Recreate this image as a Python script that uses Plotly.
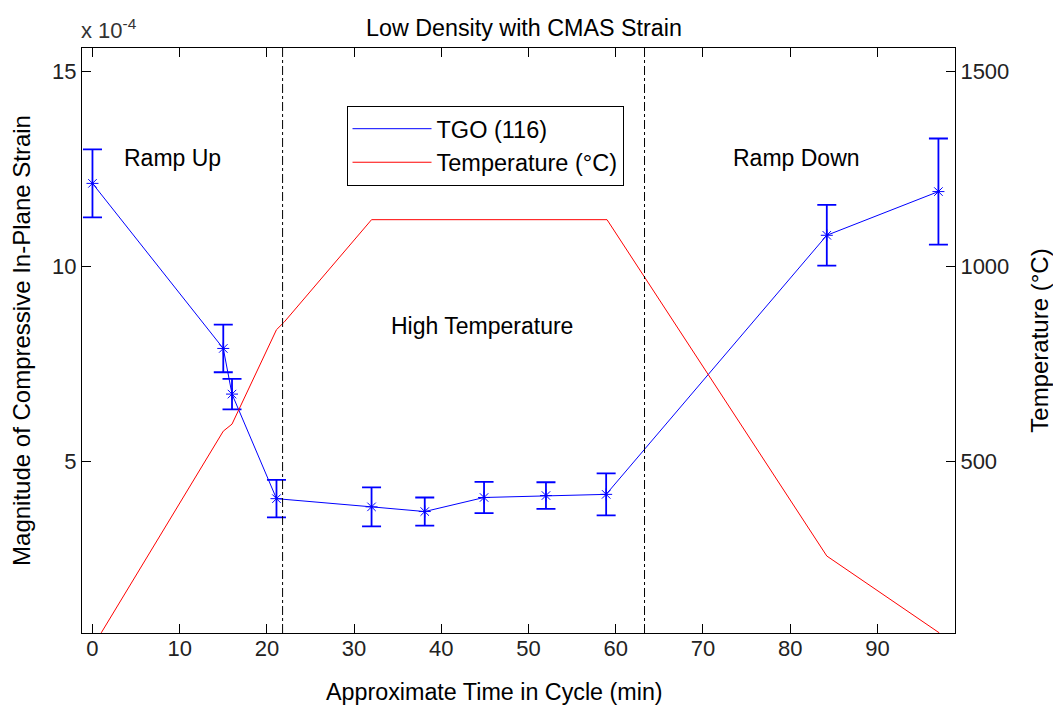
import plotly.graph_objects as go

# ---- data ----
time_strain = [0, 15, 16, 21.1, 32, 38.1, 44.9, 52, 58.9, 84.2, 97]
strain_e4 = [12.13, 7.90, 6.73, 4.05, 3.84, 3.72, 4.08, 4.13, 4.16, 10.80, 11.92]
strain_err = [0.87, 0.61, 0.39, 0.48, 0.50, 0.36, 0.40, 0.34, 0.54, 0.78, 1.36]

time_temp = [1.0, 15.0, 16.0, 21.1, 22.0, 32.0, 59.0, 84.2, 97.1]
temperature = [61, 578, 596, 838, 858, 1120, 1120, 258, 61]

phase_bounds = [21.8, 63.3]
x_ticks = [0, 10, 20, 30, 40, 50, 60, 70, 80, 90]
y_ticks = [5, 10, 15]
y2_ticks = [500, 1000, 1500]

FONT = "Liberation Sans, Arial, Helvetica, sans-serif"
FS = 22
BLUE = "#0000FF"
RED = "#FF0000"

fig = go.Figure()
fig.add_trace(go.Scatter(
    x=time_strain, y=strain_e4, name="TGO (116)", mode="lines+markers",
    showlegend=False, legendgroup="a",
    line=dict(color=BLUE, width=1),
    marker=dict(symbol="asterisk-open", size=10, color=BLUE,
                line=dict(color=BLUE, width=1)),
    error_y=dict(type="data", array=strain_err, visible=True,
                 color=BLUE, thickness=1.8, width=9.5),
    yaxis="y"))
# legend entry (line only, as in the reference legend)
fig.add_trace(go.Scatter(
    x=[None], y=[None], name="TGO (116)", mode="lines", legendgroup="a",
    line=dict(color=BLUE, width=1), yaxis="y"))
fig.add_trace(go.Scatter(
    x=time_temp, y=temperature, name="Temperature (°C)", mode="lines",
    legendgroup="b",
    line=dict(color=RED, width=1), yaxis="y2"))

for xb in phase_bounds:
    fig.add_shape(type="line", x0=xb, x1=xb, y0=0, y1=1, xref="x", yref="paper",
                  line=dict(color="black", width=1, dash="dashdot"))

ann = [
    ("Ramp Up", 9.2, 12.79),
    ("High Temperature", 44.65, 8.48),
    ("Ramp Down", 80.7, 12.79),
]
for t, xx, yy in ann:
    fig.add_annotation(text=t, x=xx, y=yy, xref="x", yref="y", showarrow=False,
                       font=dict(family=FONT, size=23, color="black"))

fig.add_annotation(text="x 10<sup>-4</sup>", x=0, y=1, xref="paper", yref="paper",
                   xanchor="left", yanchor="bottom", showarrow=False, yshift=3,
                   xshift=-3,
                   font=dict(family=FONT, size=22, color="#333333"))

# x-axis title (placed as in the reference, slightly left of the plot centre)
fig.add_annotation(text="Approximate Time in Cycle (min)", x=0.5, y=0,
                   xref="paper", yref="paper", xanchor="center", yanchor="middle",
                   xshift=-24, yshift=-59, showarrow=False,
                   font=dict(family=FONT, size=23.3, color="black"))

axis_common = dict(showline=True, linecolor="black", linewidth=1, ticks="inside",
                   ticklen=9, tickcolor="black", showgrid=False, zeroline=False,
                   automargin=False,
                   tickfont=dict(family=FONT, size=FS, color="#222222"))

# page body has an 8px margin: figure is sized so the plot lands where the reference has it
fig.update_layout(
    width=1053, height=706,
    margin=dict(l=74, r=106, t=40, b=81, autoexpand=False),
    paper_bgcolor="white", plot_bgcolor="white",
    title=dict(text="Low Density with CMAS Strain", x=0.49, xanchor="center",
               y=0.972, yanchor="middle",
               font=dict(family=FONT, size=23.3, color="black")),
    xaxis=dict(range=[-1.2, 98.9], tickvals=x_ticks, mirror="ticks",
               ticklabelstandoff=-4,
               **axis_common),
    yaxis=dict(range=[0.607, 15.6], tickvals=y_ticks, ticklabelstandoff=0,
               title=dict(text="Magnitude of Compressive In-Plane Strain", standoff=24,
                          font=dict(family=FONT, size=24, color="black")),
               **axis_common),
    yaxis2=dict(range=[60.7, 1560], tickvals=y2_ticks, overlaying="y", side="right",
                ticklabelstandoff=0,
                title=dict(text="Temperature (°C)", standoff=22,
                           font=dict(family=FONT, size=24, color="black")),
                **axis_common),
    legend=dict(x=0.303, y=0.901, xanchor="left", yanchor="top",
                bgcolor="white", bordercolor="black", borderwidth=1,
                itemwidth=79, tracegroupgap=0,
                font=dict(family=FONT, size=23.5, color="black")),
    showlegend=True,
)

fig.write_html("out.html")
